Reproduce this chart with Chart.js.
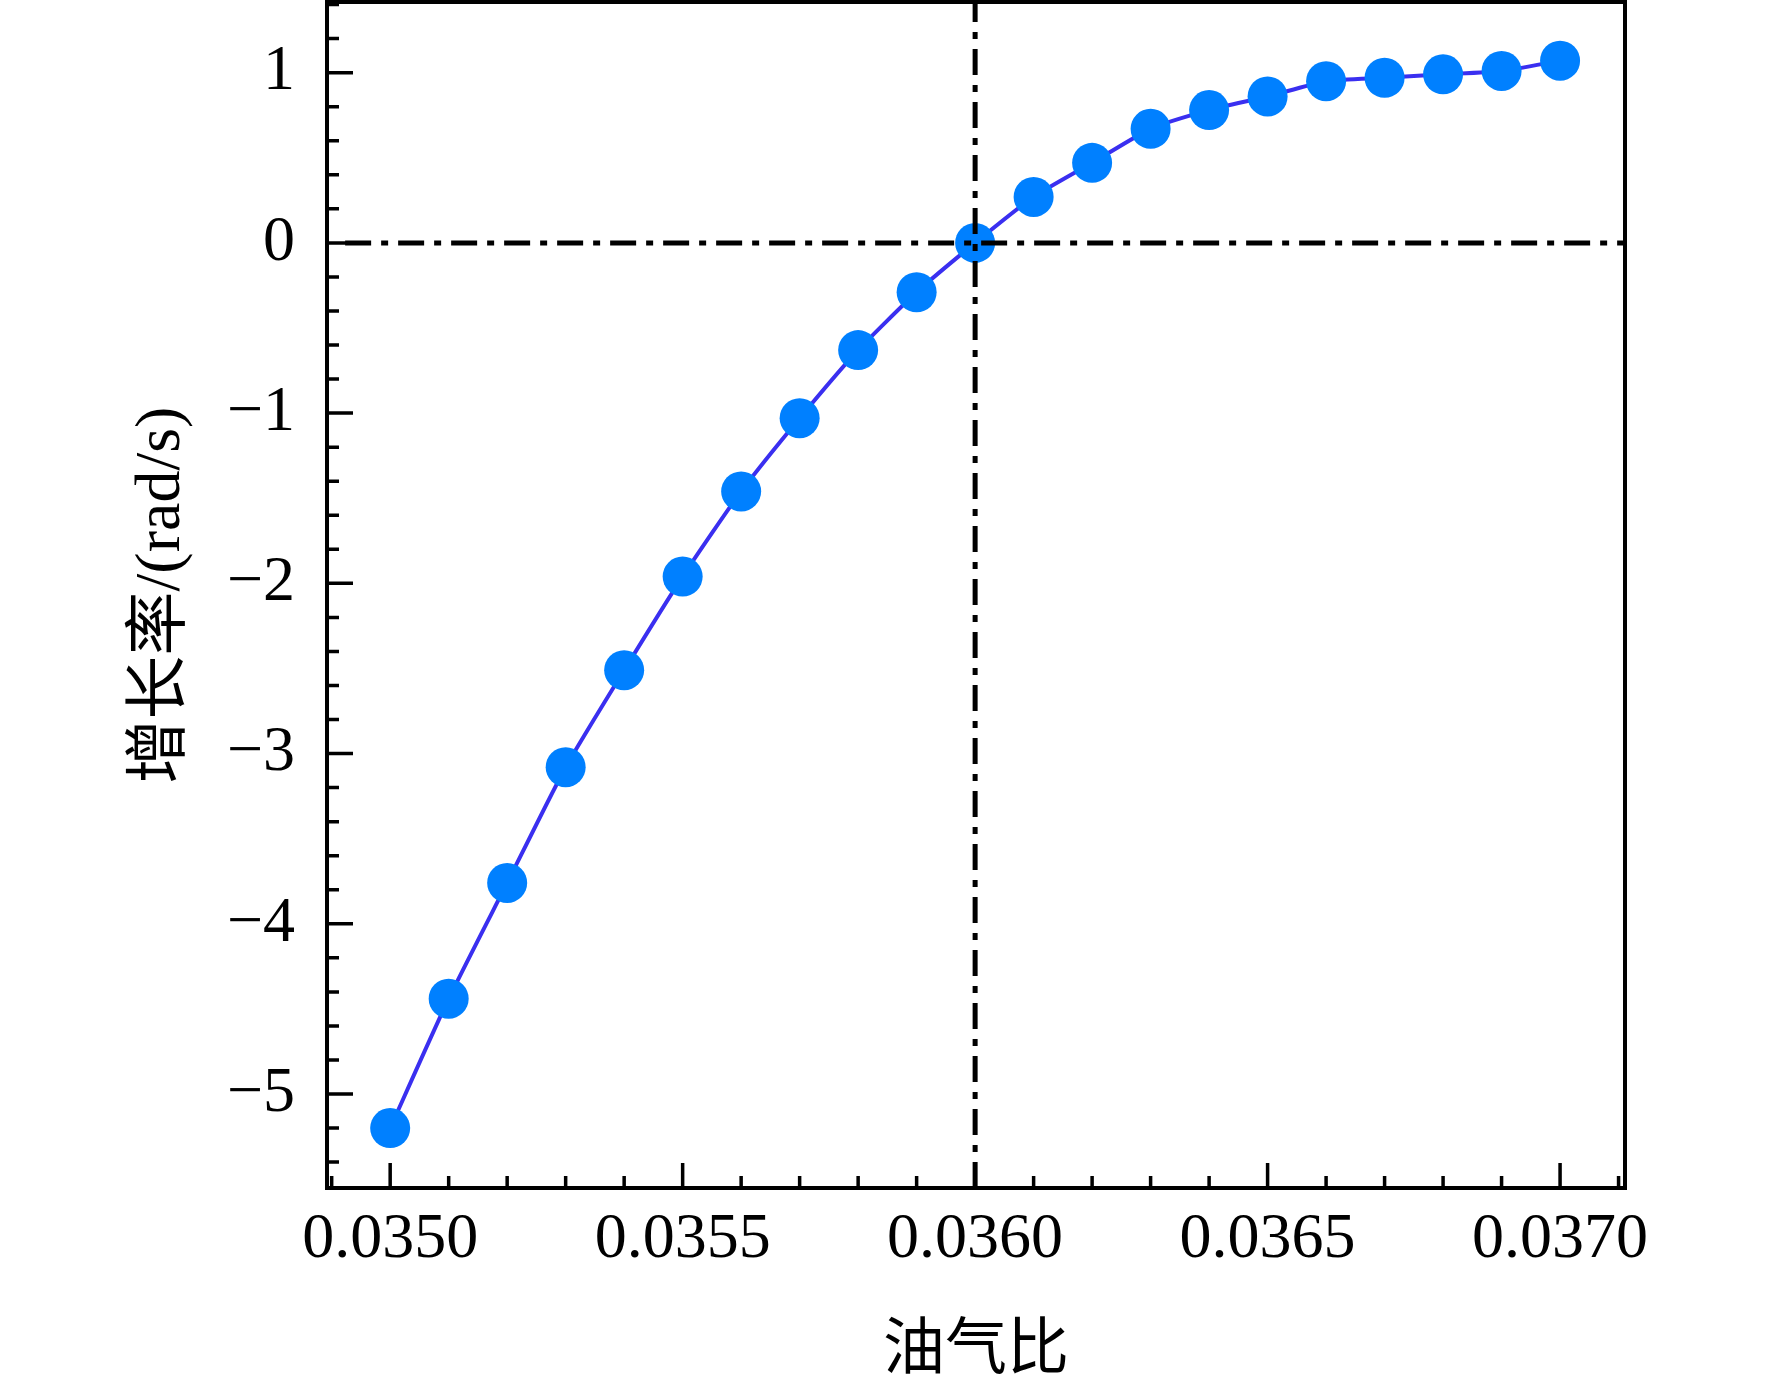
<!DOCTYPE html>
<html>
<head>
<meta charset="utf-8">
<script src="https://cdn.jsdelivr.net/npm/chart.js@4.4.1/dist/chart.umd.min.js"></script>
<style>
  html, body { margin: 0; padding: 0; background: #ffffff; }
  #wrap { width: 1772px; height: 1383px; }
</style>
</head>
<body>
<div id="wrap"><canvas id="growthChart" width="1772" height="1383"></canvas></div>
<script>
// oil-gas ratio vs growth rate
const oilGasRatio = [0.0350, 0.0351, 0.0352, 0.0353, 0.0354, 0.0355, 0.0356, 0.0357, 0.0358, 0.0359, 0.0360,
                     0.0361, 0.0362, 0.0363, 0.0364, 0.0365, 0.0366, 0.0367, 0.0368, 0.0369, 0.0370];
const growthRate = [-5.20, -4.44, -3.76, -3.08, -2.51, -1.96, -1.46, -1.03, -0.63, -0.29, 0.00,
                    0.27, 0.47, 0.67, 0.78, 0.86, 0.95, 0.97, 0.99, 1.01, 1.07];

const xTicks = [0.0350, 0.0355, 0.0360, 0.0365, 0.0370];
const yTicks = [-5, -4, -3, -2, -1, 0, 1];

const criticalRatio = 0.0360;
const zeroRate = 0;

const xTitle = '油气比';
const yTitle = '增长率/(rad/s)';

const X_MIN = 0.034892, X_MAX = 0.037111;
const Y_MIN = -5.552, Y_MAX = 1.415;
const FONT = "'Liberation Serif', 'Noto Sans CJK SC', serif";

const fmtY = v => v < 0 ? '\u2212' + Math.abs(v) : String(v);

// frame + inward ticks, drawn from the scales
const frameTicks = {
    id: 'frameTicks',
    afterDatasetsDraw(chart) {
        const { ctx, chartArea: a, scales } = chart;
        const xs = scales.x, ys = scales.y;
        ctx.save();
        ctx.strokeStyle = '#000';
        ctx.lineWidth = 3.5;
        ctx.beginPath();
        for (let i = 0; i <= 22; i++) {
            const v = 0.0349 + i * 0.0001;
            if (v < X_MIN || v > X_MAX) continue;
            const px = xs.getPixelForValue(v);
            const major = i % 5 === 1;
            ctx.moveTo(px, a.bottom);
            ctx.lineTo(px, a.bottom - (major ? 25 : 12));
        }
        for (let i = 0; i <= 35; i++) {
            const v = -5.4 + i * 0.2;
            if (v < Y_MIN || v > Y_MAX) continue;
            const py = ys.getPixelForValue(v);
            const major = Math.abs(v - Math.round(v)) < 1e-6;
            ctx.moveTo(a.left, py);
            ctx.lineTo(a.left + (major ? 26 : 12), py);
        }
        ctx.stroke();
        ctx.lineWidth = 4;
        ctx.strokeRect(a.left, a.top, a.right - a.left, a.bottom - a.top);
        ctx.restore();
    }
};

const ctx = document.getElementById('growthChart').getContext('2d');
new Chart(ctx, {
    type: 'line',
    data: {
        datasets: [{
            label: 'x = 0.036',
            data: [{ x: criticalRatio, y: Y_MIN }, { x: criticalRatio, y: Y_MAX }],
            borderColor: '#000',
            borderWidth: 5,
            borderDash: [26, 10, 7, 10],
            pointRadius: 0,
            fill: false
        }, {
            label: 'y = 0',
            data: [{ x: 0.034923, y: zeroRate }, { x: X_MAX, y: zeroRate }],
            borderColor: '#000',
            borderWidth: 5,
            borderDash: [26, 10, 7, 10],
            pointRadius: 0,
            fill: false
        }, {
            label: 'growth rate',
            data: oilGasRatio.map((x, i) => ({ x, y: growthRate[i] })),
            borderColor: '#3a2ff0',
            borderWidth: 4,
            backgroundColor: '#0080ff',
            pointBackgroundColor: '#0080ff',
            pointBorderWidth: 0,
            pointRadius: 20,
            tension: 0.2,
            fill: false
        }]
    },
    options: {
        responsive: false,
        devicePixelRatio: 1,
        animation: false,
        layout: { autoPadding: false, padding: { top: 2, right: 147, bottom: 0, left: 0 } },
        plugins: { legend: { display: false }, tooltip: { enabled: false } },
        scales: {
            x: {
                type: 'linear',
                min: X_MIN,
                max: X_MAX,
                border: { display: false },
                grid: { display: false, drawTicks: false },
                afterBuildTicks: s => { s.ticks = xTicks.map(v => ({ value: v })); },
                afterFit: s => { s.height = 195; s.paddingLeft = 0; s.paddingRight = 0; },
                ticks: {
                    padding: 14,
                    color: '#000',
                    font: { family: FONT, size: 64 },
                    maxRotation: 0,
                    autoSkip: false,
                    callback: v => Number(v).toFixed(4)
                },
                title: {
                    display: true,
                    text: xTitle,
                    color: '#000',
                    font: { family: FONT, size: 62, lineHeight: 0.9 },
                    padding: { top: 0, bottom: 2 }
                }
            },
            y: {
                type: 'linear',
                min: Y_MIN,
                max: Y_MAX,
                border: { display: false },
                grid: { display: false, drawTicks: false },
                afterBuildTicks: s => { s.ticks = yTicks.map(v => ({ value: v })); },
                afterFit: s => { s.width = 327; s.paddingTop = 0; s.paddingBottom = 0; },
                ticks: {
                    padding: 32,
                    color: '#000',
                    font: { family: FONT, size: 64 },
                    autoSkip: false,
                    callback: v => fmtY(v)
                },
                title: {
                    display: true,
                    text: yTitle,
                    color: '#000',
                    font: { family: FONT, size: 64 },
                    padding: { top: 124, bottom: 0 }
                }
            }
        }
    },
    plugins: [frameTicks]
});
</script>
</body>
</html>
